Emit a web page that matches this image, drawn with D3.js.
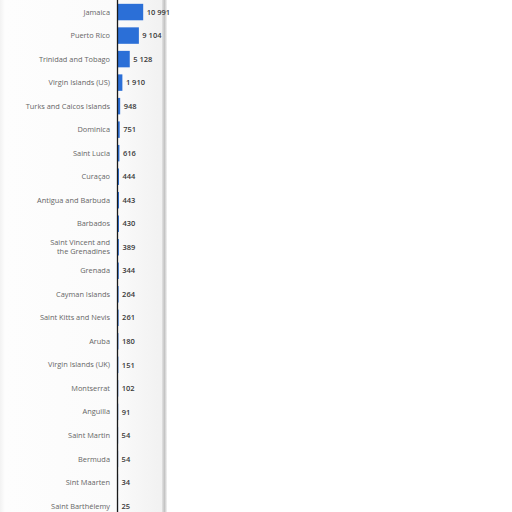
<!DOCTYPE html>
<html><head><meta charset="utf-8">
<script src="https://cdn.jsdelivr.net/npm/d3@7"></script>
<style>html,body{margin:0;padding:0;background:#fff;}svg{display:block;}</style>
</head><body>
<script>
const categories = ["Jamaica","Puerto Rico","Trinidad and Tobago","Virgin Islands (US)","Turks and Caicos Islands","Dominica","Saint Lucia","Curaçao","Antigua and Barbuda","Barbados","Saint Vincent and|the Grenadines","Grenada","Cayman Islands","Saint Kitts and Nevis","Aruba","Virgin Islands (UK)","Montserrat","Anguilla","Saint Martin","Bermuda","Sint Maarten","Saint Barthélemy"];
const values = [10991,9104,5128,1910,948,751,616,444,443,430,389,344,264,261,180,151,102,91,54,54,34,25];

const W = 512, H = 512;
const svg = d3.select("body").append("svg").attr("width", W).attr("height", H);

// panel background
const defs = svg.append("defs");
const g1 = defs.append("linearGradient").attr("id","bg").attr("x1","0").attr("x2","1").attr("y1","0").attr("y2","0");
g1.append("stop").attr("offset","0").attr("stop-color","#f2f2f2");
g1.append("stop").attr("offset","0.03").attr("stop-color","#fdfdfd");
g1.append("stop").attr("offset","0.7").attr("stop-color","#fbfbfb");
g1.append("stop").attr("offset","1").attr("stop-color","#f1f1f1");
svg.append("rect").attr("x",0).attr("y",0).attr("width",163).attr("height",H).attr("fill","url(#bg)");
const g2 = defs.append("linearGradient").attr("id","sh").attr("x1","0").attr("x2","1").attr("y1","0").attr("y2","0");
g2.append("stop").attr("offset","0").attr("stop-color","#e2e2e2");
g2.append("stop").attr("offset","0.5").attr("stop-color","#c4c4c4");
g2.append("stop").attr("offset","1").attr("stop-color","#f4f4f4");
svg.append("rect").attr("x",162).attr("y",0).attr("width",5).attr("height",H).attr("fill","url(#sh)");

const x0 = 118;
const x = d3.scaleLinear().domain([0, 10991]).range([x0, x0 + 25.2]);
const y = d3.scaleBand().domain(categories).range([0.3, 517.7]).paddingInner(0.3).paddingOuter(0.15);

svg.selectAll("rect.bar").data(values).join("rect").attr("class","bar")
  .attr("x", x(0))
  .attr("y", (d,i) => y(categories[i]))
  .attr("width", d => x(d) - x(0))
  .attr("height", y.bandwidth())
  .attr("fill", "#2b6fd7");

// category labels
const labels = svg.selectAll("text.cat").data(categories).join("text").attr("class","cat")
  .attr("x", 110)
  .attr("text-anchor","end")
  .attr("font-family","'Open Sans', 'DejaVu Sans', sans-serif")
  .attr("font-size", 7.4)
  .attr("fill","#666");
labels.each(function(d){
  const parts = d.split("|");
  const cy = y(d) + y.bandwidth()/2;
  const t = d3.select(this);
  parts.forEach((p,k) => {
    t.append("tspan").attr("x",110)
     .attr("y", cy + 2.6 + (k - (parts.length-1)/2) * 9)
     .text(p);
  });
});

// value labels
const fmt = v => d3.format(",")(v).replace(/,/g, " ");
svg.selectAll("text.val").data(values).join("text").attr("class","val")
  .attr("x", d => x(d) + 3.5)
  .attr("y", (d,i) => y(categories[i]) + y.bandwidth()/2 + 2.7)
  .attr("font-family","'Open Sans', 'DejaVu Sans', sans-serif")
  .attr("font-size", 7.5)
  .attr("font-weight", 600)
  .attr("fill","#3a3a3a")
  .text(d => fmt(d));

// axis line
svg.append("line").attr("x1",117.5).attr("x2",117.5).attr("y1",0).attr("y2",H)
  .attr("stroke","#1a1a1a").attr("stroke-width",1.3);
</script>
</body></html>
